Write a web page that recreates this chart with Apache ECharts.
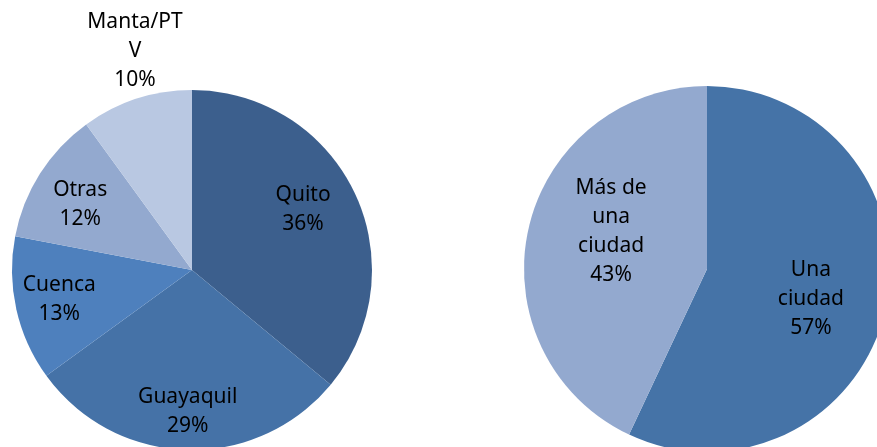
<!DOCTYPE html>
<html>
<head>
<meta charset="utf-8">
<script src="https://cdn.jsdelivr.net/npm/echarts@6/dist/echarts.min.js"></script>
<style>
  html, body { margin: 0; padding: 0; background: #fff; }
  #chart { width: 877px; height: 447px; }
</style>
</head>
<body>
<div id="chart"></div>
<script>
// ciudades (pie izquierdo)
const ciudades = ['Quito', 'Guayaquil', 'Cuenca', 'Otras', 'Manta/PTV'];
const ciudadesTexto = ['Quito', 'Guayaquil', 'Cuenca', 'Otras', 'Manta/PT\nV'];
const ciudadesPct = [36, 29, 13, 12, 10];
const ciudadesColor = ['#3c5f8d', '#4572a7', '#4e80bd', '#93a9cf', '#b9c8e2'];

// número de ciudades (pie derecho)
const numero = ['Una ciudad', 'Más de una ciudad'];
const numeroTexto = ['Una\nciudad', 'Más de\nuna\nciudad'];
const numeroPct = [57, 43];
const numeroColor = ['#4573a7', '#93a9cf'];

const labelFont = {
  fontFamily: 'Noto Sans',
  fontSize: 21,
  lineHeight: 29,
  color: '#000'
};

function pieData(names, values, colors) {
  return names.map((n, i) => ({ name: n, value: values[i], itemStyle: { color: colors[i] } }));
}

const chart = echarts.init(document.getElementById('chart'));

const fill = (center, radius, names, values, colors) => ({
  type: 'pie',
  center: center,
  radius: [0, radius],
  startAngle: 90,
  clockwise: true,
  silent: true,
  label: { show: false },
  labelLine: { show: false },
  itemStyle: { borderWidth: 0 },
  data: pieData(names, values, colors)
});

// capa transparente solo para colocar las etiquetas más hacia el borde
// (ajustes: pequeños desplazamientos como en el original de Excel)
const labels = (center, r0, r, names, values, texts, shifts, outside) => ({
  type: 'pie',
  center: center,
  radius: [r0, r],
  startAngle: 90,
  clockwise: true,
  silent: true,
  itemStyle: { color: 'rgba(0,0,0,0)', borderWidth: 0 },
  labelLine: { show: false },
  label: Object.assign({
    show: true,
    position: 'inside',
    align: 'center',
    formatter: (p) => texts[p.dataIndex] + '\n' + p.value + '%'
  }, labelFont),
  labelLayout: (p) => {
    if (outside && p.dataIndex === outside.index) {
      return { x: outside.x, y: outside.y, align: 'center', verticalAlign: 'middle' };
    }
    const s = shifts[p.dataIndex] || [0, 0];
    return { dx: s[0], dy: s[1] };
  },
  data: names.map((n, i) => ({ name: n, value: values[i] }))
});

chart.setOption({
  animation: false,
  series: [
    fill([192, 270], 180, ciudades, ciudadesPct, ciudadesColor),
    labels([192, 270], 86, 180, ciudades, ciudadesPct, ciudadesTexto,
      [[-12, -3], [0, 6], [0, 0], [3, 7]], { index: 4, x: 135, y: 51 }),
    fill([707, 269], 183, numero, numeroPct, numeroColor),
    labels([707, 269], 26, 183, numero, numeroPct, numeroTexto,
      [[-1, 7], [9, -14]], null)
  ]
});
</script>
</body>
</html>
